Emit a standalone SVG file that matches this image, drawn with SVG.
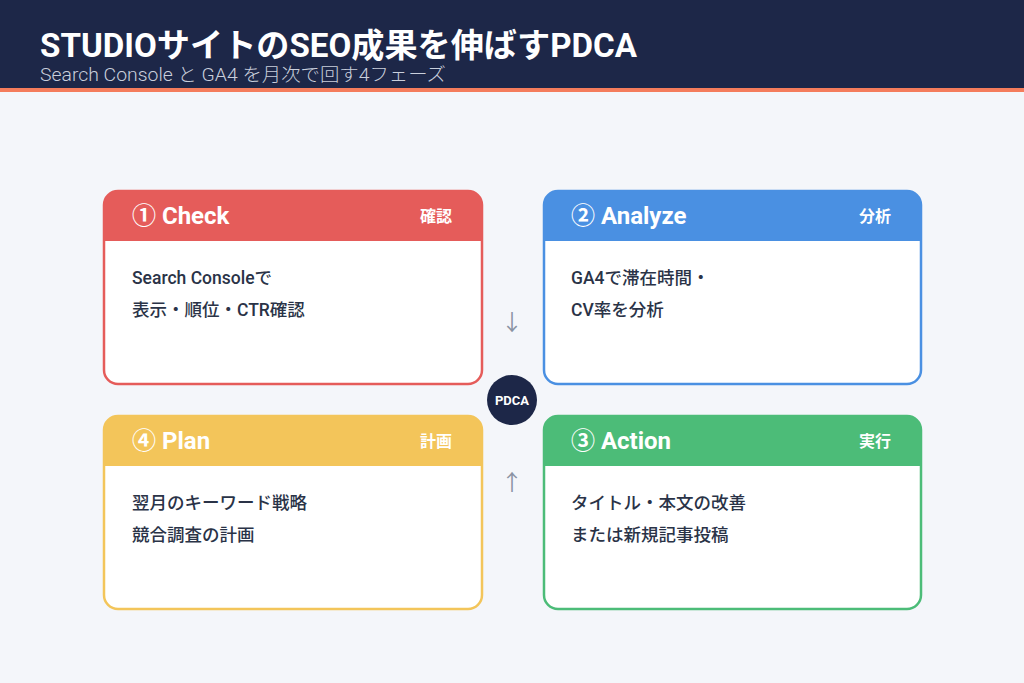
<svg xmlns="http://www.w3.org/2000/svg" width="1024" height="683" viewBox="0 0 1024 683">
<style>
text{font-family:Roboto,"Noto Sans CJK JP",sans-serif}
.t{font-size:24px;font-weight:700;fill:#fff}
.tj{font-size:16px;font-weight:700;fill:#fff}
.b{font-size:17.5px;font-weight:500;fill:#2a3347}
.ar{font-size:22px;fill:#8a93a3}
</style>
<rect width="1024" height="683" fill="#f4f6fa"/>
<rect width="1024" height="88" fill="#1d2748"/>
<rect y="88" width="1024" height="4" fill="#f47c5c"/>
<text x="40" y="57" font-size="33" font-weight="700" fill="#fff" textLength="597" lengthAdjust="spacingAndGlyphs">STUDIOサイトのSEO成果を伸ばすPDCA</text>
<text x="40" y="81" font-size="18" font-weight="300" fill="#c9cfdc" textLength="406" lengthAdjust="spacingAndGlyphs">Search Console と GA4 を月次で回す4フェーズ</text>
<g id="check">
<rect x="104" y="191" width="378" height="193" rx="14" fill="#fff" stroke="#e55c5a" stroke-width="2.5"/>
<path d="M104 241V205a14 14 0 0 1 14-14h350a14 14 0 0 1 14 14v36z" fill="#e55c5a"/>
<text class="t" x="132" y="224">① Check</text><text class="tj" x="452" y="222" text-anchor="end">確認</text>
<text class="b" x="132" y="284">Search Consoleで</text><text class="b" x="132" y="316">表示・順位・CTR確認</text>
</g>
<g id="analyze">
<rect x="544" y="191" width="377" height="193" rx="14" fill="#fff" stroke="#4a90e2" stroke-width="2.5"/>
<path d="M544 241V205a14 14 0 0 1 14-14h349a14 14 0 0 1 14 14v36z" fill="#4a90e2"/>
<text class="t" x="571" y="224">② Analyze</text><text class="tj" x="891" y="222" text-anchor="end">分析</text>
<text class="b" x="571" y="284">GA4で滞在時間・</text><text class="b" x="571" y="316">CV率を分析</text>
</g>
<g id="plan">
<rect x="104" y="416" width="378" height="193" rx="14" fill="#fff" stroke="#f3c55a" stroke-width="2.5"/>
<path d="M104 466V430a14 14 0 0 1 14-14h350a14 14 0 0 1 14 14v36z" fill="#f3c55a"/>
<text class="t" x="132" y="449">④ Plan</text><text class="tj" x="452" y="447" text-anchor="end">計画</text>
<text class="b" x="132" y="509">翌月のキーワード戦略</text><text class="b" x="132" y="541">競合調査の計画</text>
</g>
<g id="action">
<rect x="544" y="416" width="377" height="193" rx="14" fill="#fff" stroke="#4cbc78" stroke-width="2.5"/>
<path d="M544 466V430a14 14 0 0 1 14-14h349a14 14 0 0 1 14 14v36z" fill="#4cbc78"/>
<text class="t" x="571" y="449">③ Action</text><text class="tj" x="891" y="447" text-anchor="end">実行</text>
<text class="b" x="571" y="509">タイトル・本文の改善</text><text class="b" x="571" y="541">または新規記事投稿</text>
</g>
<g id="connectors">
<text class="ar" x="512" y="330" text-anchor="middle">↓</text>
<text class="ar" x="512" y="490" text-anchor="middle">↑</text>
</g>
<g id="pdca">
<circle cx="512" cy="400" r="25" fill="#1d2748"/>
<text x="512" y="405" font-size="13" font-weight="700" fill="#fff" text-anchor="middle">PDCA</text>
</g>
</svg>
